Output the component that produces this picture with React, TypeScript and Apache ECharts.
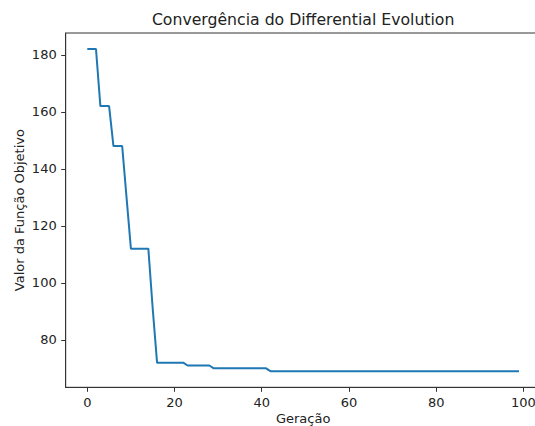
import React, { useEffect, useRef } from "react";
import * as echarts from "echarts";

const titleText = "Convergência do Differential Evolution";
const xAxisName = "Geração";
const yAxisName = "Valor da Função Objetivo";

// Best objective value found at each generation (0..99)
const objectiveValues: number[] = [
  182, 182, 182, 162, 162, 162, 148, 148, 148, 130,
  112, 112, 112, 112, 112, 91, 72, 72, 72, 72,
  72, 72, 72, 71, 71, 71, 71, 71, 71, 70,
  70, 70, 70, 70, 70, 70, 70, 70, 70, 70,
  70, 70, 69, 69, 69, 69, 69, 69, 69, 69,
  69, 69, 69, 69, 69, 69, 69, 69, 69, 69,
  69, 69, 69, 69, 69, 69, 69, 69, 69, 69,
  69, 69, 69, 69, 69, 69, 69, 69, 69, 69,
  69, 69, 69, 69, 69, 69, 69, 69, 69, 69,
  69, 69, 69, 69, 69, 69, 69, 69, 69, 69,
];

const xTicks = [0, 20, 40, 60, 80, 100];
const yTicks = [80, 100, 120, 140, 160, 180];

export default function App() {
  const ref = useRef<HTMLDivElement>(null);

  useEffect(() => {
    if (!ref.current) return;
    const chart = echarts.init(ref.current, undefined, { renderer: "svg" });

    const data = objectiveValues.map((v, i) => [i, v]);
    const n = objectiveValues.length;
    const xMinD = 0;
    const xMaxD = n - 1;
    const xPad = (xMaxD - xMinD) * 0.05;
    const yMinD = Math.min(...objectiveValues);
    const yMaxD = Math.max(...objectiveValues);
    const yPad = (yMaxD - yMinD) * 0.05;

    const font = "DejaVu Sans";
    const textColor = "#222";
    const spine = "#333";

    const gridLeft = 65.7;
    const gridTop = 33;
    const gridRight = -5.6;
    const gridBottom = 38.7;
    const axesCenterX = gridLeft + (535 - gridLeft - gridRight) / 2;

    chart.setOption({
      animation: false,
      backgroundColor: "#ffffff",
      textStyle: { fontFamily: font },
      grid: {
        left: gridLeft,
        top: gridTop,
        right: gridRight,
        bottom: gridBottom,
        show: true,
        borderColor: spine,
        borderWidth: 1,
        backgroundColor: "transparent",
        outerBoundsMode: "none",
        containLabel: false,
      },
      graphic: [
        {
          type: "text",
          x: axesCenterX,
          y: 19.5,
          style: {
            text: titleText,
            fontFamily: font,
            fontSize: 15.7,
            fill: textColor,
            textAlign: "center",
            textVerticalAlign: "middle",
          },
        },
      ],
      xAxis: {
        type: "value",
        position: "bottom",
        offset: 0,
        min: xMinD - xPad,
        max: xMaxD + xPad,
        name: xAxisName,
        nameLocation: "middle",
        nameGap: 24,
        nameMoveOverlap: false,
        nameTextStyle: { fontFamily: font, fontSize: 13, color: textColor, lineHeight: 14 },
        axisLine: { show: true, onZero: false, lineStyle: { color: spine, width: 1 } },
        splitLine: { show: false },
        axisTick: {
          show: true,
          customValues: xTicks,
          length: 4.5,
          lineStyle: { color: spine, width: 1 },
        },
        axisLabel: {
          customValues: xTicks,
          fontFamily: font,
          fontSize: 13,
          color: textColor,
          margin: 9,
        },
      },
      yAxis: {
        type: "value",
        position: "left",
        offset: 0,
        min: yMinD - yPad,
        max: yMaxD + yPad,
        name: yAxisName,
        nameLocation: "middle",
        nameGap: 40,
        nameMoveOverlap: false,
        nameTextStyle: { fontFamily: font, fontSize: 13, color: textColor },
        axisLine: { show: true, onZero: false, lineStyle: { color: spine, width: 1 } },
        splitLine: { show: false },
        axisTick: {
          show: true,
          customValues: yTicks,
          length: 4.5,
          lineStyle: { color: spine, width: 1 },
        },
        axisLabel: {
          customValues: yTicks,
          fontFamily: font,
          fontSize: 13,
          color: textColor,
          margin: 9,
        },
      },
      series: [
        {
          type: "line",
          data,
          showSymbol: false,
          symbol: "none",
          lineStyle: { color: "#1f77b4", width: 2 },
          itemStyle: { color: "#1f77b4" },
        },
      ],
    });

    return () => chart.dispose();
  }, []);

  return (
    <div
      ref={ref}
      style={{ position: "absolute", left: 0, top: 0, width: 535, height: 426 }}
    />
  );
}
